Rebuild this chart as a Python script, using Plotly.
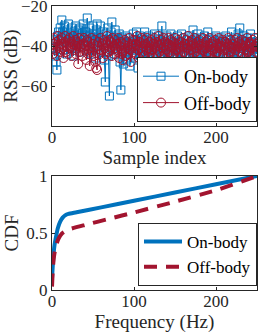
import plotly.graph_objects as go

# ---- Data ----
sample_index = list(range(1, 251))
rss_on_body = [
    -37, -41, -45, -38, -48, -52, -35, -33, -40, -31,
    -36, -27, -33, -42, -30, -38, -35, -44, -32, -29,
    -37, -34, -40, -31, -36, -45, -33, -38, -30, -41,
    -35, -32, -39, -43, -31, -36, -34, -29, -40, -37,
    -33, -38, -26, -35, -42, -31, -37, -44, -34, -30,
    -39, -36, -46, -32, -29, -41, -35, -38, -30, -43,
    -36, -33, -40, -47, -58, -34, -37, -31, -45, -65,
    -38, -33, -28, -41, -36, -44, -32, -39, -35, -42,
    -37, -34, -48, -62, -40, -36, -49, -43, -38, -35,
    -47, -39, -44, -36, -50, -41, -38, -45, -34, -42,
    -37, -46, -33, -40, -51, -38, -35, -44, -41, -36,
    -48, -39, -33, -43, -37, -50, -40, -35, -45, -38,
    -42, -36, -47, -39, -34, -44, -41, -37, -49, -35,
    -40, -46, -38, -30, -43, -36, -41, -48, -39, -35,
    -44, -37, -50, -40, -34, -42, -38, -46, -36, -41,
    -39, -45, -35, -43, -48, -38, -41, -34, -47, -40,
    -36, -44, -39, -49, -37, -42, -35, -46, -40, -38,
    -43, -32, -41, -47, -37, -45, -39, -34, -44, -40,
    -36, -48, -42, -38, -45, -35, -41, -50, -39, -33,
    -43, -37, -46, -40, -36, -44, -38, -49, -41, -35,
    -42, -39, -47, -37, -44, -40, -36, -50, -43, -38,
    -41, -35, -46, -39, -44, -37, -48, -40, -33, -43,
    -38, -45, -36, -42, -47, -39, -34, -44, -31, -41,
    -37, -49, -40, -35, -46, -38, -43, -36, -50, -39,
    -42, -34, -45, -38, -41, -47, -36, -40, -44, -38,
]
rss_off_body = [
    -44, -39, -36, -42, -38, -45, -35, -40, -37, -43,
    -39, -36, -41, -46, -38, -35, -43, -40, -37, -44,
    -36, -41, -38, -45, -39, -35, -42, -37, -44, -40,
    -38, -49, -36, -43, -40, -37, -45, -39, -36, -42,
    -40, -47, -37, -44, -38, -50, -41, -36, -43, -39,
    -45, -37, -48, -51, -52, -40, -38, -44, -36, -42,
    -39, -46, -37, -41, -44, -38, -35, -43, -40, -37,
    -42, -38, -45, -36, -40, -44, -37, -41, -39, -43,
    -36, -46, -40, -38, -44, -47, -39, -42, -37, -45,
    -41, -38, -44, -36, -42, -48, -39, -37, -43, -40,
    -37, -44, -39, -35, -42, -46, -38, -41, -36, -43,
    -40, -37, -45, -39, -42, -36, -49, -41, -38, -44,
    -37, -42, -39, -46, -36, -41, -44, -38, -40, -35,
    -43, -39, -37, -45, -41, -36, -44, -38, -42, -47,
    -39, -36, -43, -40, -37, -45, -41, -38, -44, -36,
    -42, -39, -46, -37, -41, -44, -38, -53, -40, -36,
    -43, -39, -37, -45, -41, -35, -44, -38, -42, -40,
    -37, -46, -39, -36, -43, -41, -38, -45, -40, -37,
    -44, -39, -42, -36, -50, -41, -38, -44, -37, -43,
    -40, -36, -45, -39, -42, -38, -47, -41, -37, -44,
    -39, -43, -36, -41, -45, -38, -40, -37, -44, -42,
    -38, -41, -46, -39, -36, -43, -40, -37, -54, -41,
    -39, -44, -37, -42, -40, -36, -45, -38, -43, -39,
    -41, -37, -44, -40, -46, -38, -42, -36, -43, -40,
    -38, -45, -39, -41, -37, -44, -40, -36, -43, -39,
]

freq_on = [0, 1, 2, 3, 5, 7, 10, 13, 16, 20, 30, 60, 100, 150, 200, 250]
cdf_on = [0.1, 0.22, 0.32, 0.39, 0.47, 0.54, 0.6, 0.635, 0.655, 0.668, 0.682, 0.725, 0.783, 0.855, 0.928, 1.0]
freq_off = [0, 1, 2, 3, 5, 8, 12, 16, 20, 40, 70, 100, 150, 200, 250]
cdf_off = [0.03, 0.18, 0.27, 0.32, 0.39, 0.45, 0.495, 0.515, 0.53, 0.57, 0.625, 0.68, 0.775, 0.875, 1.0]

BLUE = "#0072BD"
RED = "#A2142F"
AX = "#262626"
FONT = "'Liberation Serif', 'Times New Roman', 'DejaVu Serif', serif"
W, H = 258, 335

fig = go.Figure()
fig.add_trace(go.Scatter(x=sample_index, y=rss_on_body, mode="lines+markers", name="On-body",
                         line=dict(color=BLUE, width=1),
                         marker=dict(symbol="square-open", size=8, color=BLUE, line=dict(width=1)),
                         xaxis="x", yaxis="y", legend="legend"))
fig.add_trace(go.Scatter(x=sample_index, y=rss_off_body, mode="lines+markers", name="Off-body",
                         line=dict(color=RED, width=1),
                         marker=dict(symbol="circle-open", size=9, color=RED, line=dict(width=1)),
                         xaxis="x", yaxis="y", legend="legend"))
fig.add_trace(go.Scatter(x=freq_on, y=cdf_on, mode="lines", name="On-body",
                         line=dict(color=BLUE, width=4, shape="spline", smoothing=0.6),
                         xaxis="x2", yaxis="y2", legend="legend2"))
fig.add_trace(go.Scatter(x=freq_off, y=cdf_off, mode="lines", name="Off-body",
                         line=dict(color=RED, width=4, dash="13px,9px", shape="spline", smoothing=0.6),
                         xaxis="x2", yaxis="y2", legend="legend2"))

def px_x(p):
    return p / W

def px_y(p):
    return 1 - p / H

axis_common = dict(showline=True, linecolor=AX, linewidth=1, mirror="ticks", ticks="inside",
                   ticklen=3, tickcolor=AX, showgrid=False, zeroline=False, automargin=False,
                   ticklabeloverflow="allow",
                   tickfont=dict(family=FONT, size=17, color=AX),
                   title_font=dict(family=FONT, size=19, color=AX))

fig.update_layout(
    width=W, height=H, margin=dict(l=0, r=0, t=0, b=0, autoexpand=False),
    paper_bgcolor="white", plot_bgcolor="white",
    font=dict(family=FONT, color=AX),
    xaxis=dict(domain=[px_x(52), px_x(257)], range=[0, 250], tickvals=[0, 100, 200],
               anchor="y", ticklabelstandoff=-4,
               title=dict(text="Sample index", standoff=0), **axis_common),
    yaxis=dict(domain=[px_y(126), px_y(6)], range=[-80, -20], tickvals=[-60, -40, -20],
               anchor="x", title=dict(text="RSS (dB)", standoff=2), **axis_common),
    xaxis2=dict(domain=[px_x(52), px_x(257)], range=[0, 250], tickvals=[0, 100, 200],
                anchor="y2", ticklabelstandoff=-4,
                title=dict(text="Frequency (Hz)", standoff=0), **axis_common),
    yaxis2=dict(domain=[px_y(290), px_y(176)], range=[0, 1], tickvals=[0, 0.5, 1],
                anchor="x2", title=dict(text="CDF", standoff=2), **axis_common),
    legend=dict(x=px_x(257), y=px_y(122), xanchor="right", yanchor="bottom", itemwidth=36,
                bgcolor="white", bordercolor=AX, borderwidth=1,
                font=dict(family=FONT, size=18, color="black"), tracegroupgap=0),
    legend2=dict(x=px_x(257), y=px_y(286), xanchor="right", yanchor="bottom", itemwidth=38,
                 bgcolor="white", bordercolor=AX, borderwidth=1,
                 font=dict(family=FONT, size=17, color="black"), tracegroupgap=0),
    showlegend=True,
)

fig.write_html("out.html", config={"displayModeBar": False},
               post_script="document.body.style.margin='0';document.body.style.overflow='hidden';")
